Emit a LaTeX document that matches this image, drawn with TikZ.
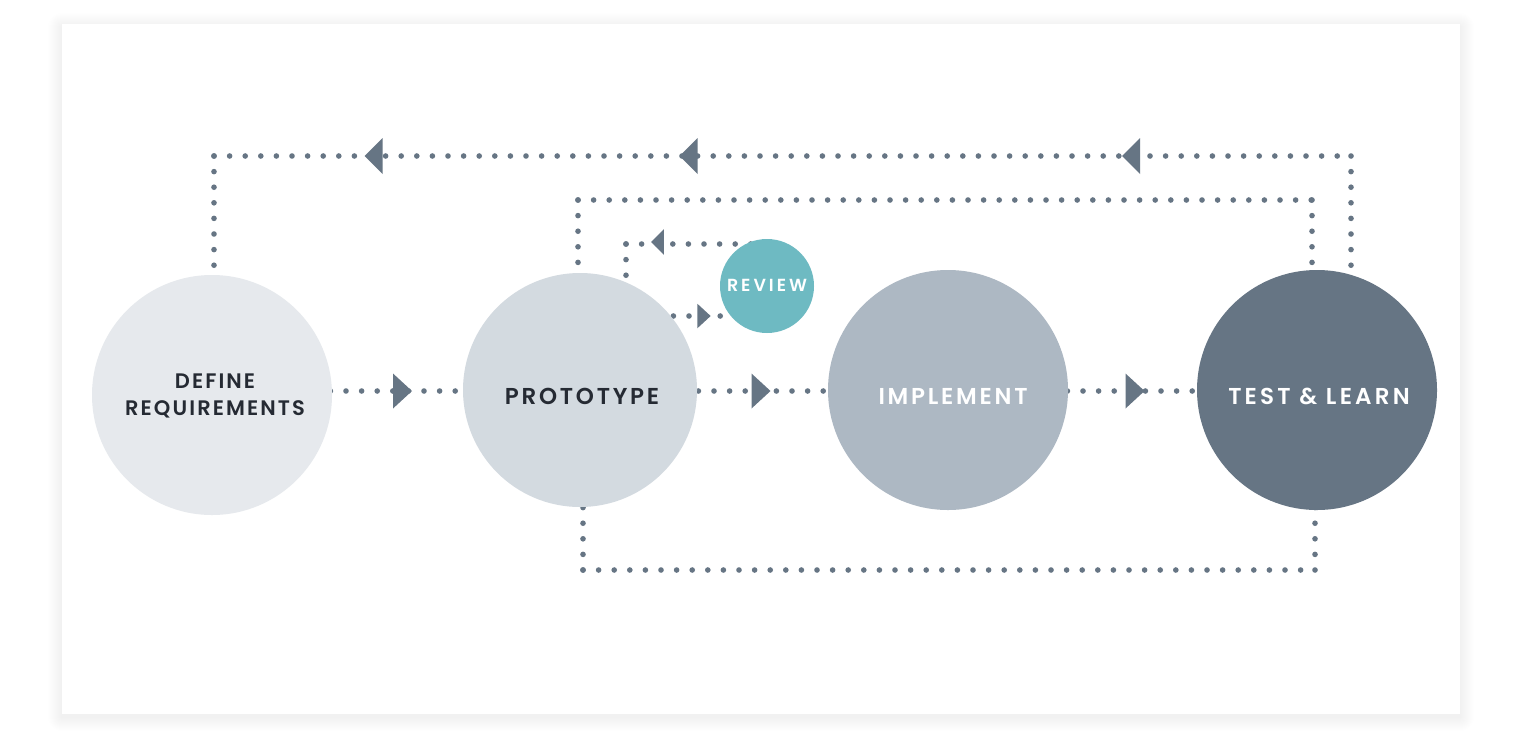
\documentclass[tikz,border=0pt]{standalone}
\usepackage{fontspec}
\setmainfont{Poppins}[BoldFont={Poppins SemiBold}]
\newfontfamily\lblfont{Poppins}[BoldFont={Poppins SemiBold},LetterSpace=12]
\newfontfamily\deffont{Poppins}[BoldFont={Poppins SemiBold},LetterSpace=10]
\newfontfamily\revfont{Poppins}[BoldFont={Poppins SemiBold},LetterSpace=17]
\newfontfamily\tstfont{Poppins}[BoldFont={Poppins SemiBold},LetterSpace=14]
\usetikzlibrary{backgrounds}
\definecolor{dotc}{HTML}{667584}
\definecolor{cdef}{HTML}{E6E9ED}
\definecolor{cpro}{HTML}{D3DAE0}
\definecolor{cimp}{HTML}{ADB8C3}
\definecolor{ctst}{HTML}{667584}
\definecolor{crev}{HTML}{6EBAC2}
\definecolor{darktxt}{HTML}{252A33}
\tikzset{
  circ/.style={circle, draw=none, inner sep=0pt},
  dotline/.style={draw=dotc, line width=5.6pt, line cap=round, dash pattern=on 0pt off 15.6pt},
  lbl/.style={font=\lblfont\bfseries\fontsize{23}{27}\selectfont, inner sep=0pt, align=center},
  larr/.pic={\fill[dotc] (-9,0) -- (9,-18) -- (9,18) -- cycle;},
  rarr/.pic={\fill[dotc] (9.5,0) -- (-9.5,-17.5) -- (-9.5,17.5) -- cycle;},
}
\begin{document}
\begin{tikzpicture}[x=1pt,y=-1pt]
\useasboundingbox (0,0) rectangle (1522,742);
% nodes
\node[circ, fill=cdef, minimum size=240pt] (def) at (212,395) {};
\node[circ, fill=cpro, minimum size=234pt] (pro) at (580,390) {};
\node[circ, fill=cimp, minimum size=240pt] (imp) at (948,390) {};
\node[circ, fill=ctst, minimum size=240pt] (tst) at (1317,390) {};
\node[circ, fill=crev, minimum size=94pt] (rev) at (767,286) {};
% labels
\node[lbl, text=darktxt, anchor=base, font=\deffont\bfseries\fontsize{21}{27}\selectfont] (ldef) at (215,415) {DEFINE\\REQUIREMENTS};
\node[lbl, text=darktxt, anchor=base] (lpro) at (582,404) {PROTOTYPE};
\node[lbl, text=white, anchor=base] (limp) at (953,404) {IMPLEMENT};
\node[lbl, text=white, anchor=base, font=\tstfont\bfseries\fontsize{23}{27}\selectfont] (ltst) at (1319,404) {TEST \& LEARN};
\node[lbl, text=white, anchor=base, font=\revfont\bfseries\fontsize{17.5}{20}\selectfont] (lrev) at (767,291.5) {REVIEW};
% corners
\coordinate (a1) at (214,156);
\coordinate (a2) at (1351,156);
\coordinate (b1) at (578,200);
\coordinate (b2) at (1312,200);
\coordinate (c1) at (583,570);
\coordinate (c2) at (1315,570);
\coordinate (r1) at (626,244);
\coordinate (r2) at (767,316);
\coordinate (mid) at (0,391);
\begin{scope}[on background layer]
  \fill[white] (0,0) rectangle (1522,742);
  \foreach \i in {1,...,14} {
    \fill[black, opacity=0.005, rounded corners=\i pt] (62-\i,24-\i+3) rectangle (1460+\i,714+\i+3);
  }
  \fill[white] (62,24) rectangle (1460,714);
  % outer top loop
  \draw[dotline] (a1) -- (a2);
  \draw[dotline] (a1) -- (def.center -| a1);
  \draw[dotline] (a2) -- (tst.center -| a2);
  % inner top loop
  \draw[dotline] (b1) -- (b2);
  \draw[dotline] (b1) -- (pro.center -| b1);
  \draw[dotline] (b2) -- (tst.center -| b2);
  % bottom loop
  \draw[dotline] (c1) -- (c2);
  \draw[dotline] (c1) -- (pro.center -| c1);
  \draw[dotline] (c2) -- (tst.center -| c2);
  % review loop
  \draw[dotline] (r1) -- (rev.center |- r1);
  \draw[dotline] (r1) -- (pro.center -| r1);
  \draw[dotline] (r2) -- (pro.center |- r2);
  % main line
  \draw[dotline] (pro.center |- mid) -- (def.center |- mid);
  \draw[dotline] (imp.center |- mid) -- (pro.center |- mid);
  \draw[dotline] (tst.center |- mid) -- (imp.center |- mid);
\end{scope}
% arrowheads
\pic at (373.5,156) {larr};
\pic at (688.5,156) {larr};
\pic at (1131,156) {larr};
\pic at (402.5,391) {rarr};
\pic at (761,391) {rarr};
\pic at (1135,391) {rarr};
\pic[scale=0.72] at (657.5,242) {larr};
\pic[scale=0.7] at (704,316) {rarr};
\end{tikzpicture}
\end{document}
